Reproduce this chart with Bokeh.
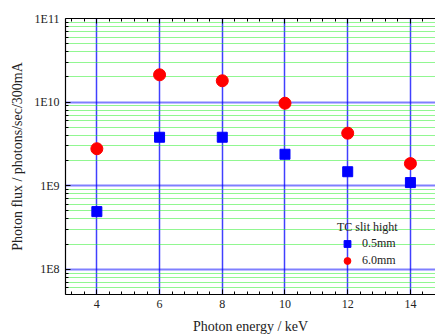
from bokeh.plotting import figure
from bokeh.models import ColumnDataSource, FixedTicker, LinearAxis, CustomJSTickFormatter, Range1d
from bokeh.embed import file_html
from bokeh.resources import INLINE

# Data
energy_kev = [4, 6, 8, 10, 12, 14]
flux_05mm = [4.9e8, 3.8e9, 3.8e9, 2.38e9, 1.47e9, 1.09e9]
flux_60mm = [2.77e9, 2.12e10, 1.8e10, 9.7e9, 4.25e9, 1.84e9]
x_ticks = [4, 6, 8, 10, 12, 14]
y_ticks = [1e8, 1e9, 1e10, 1e11]

FONT = "Liberation Serif"

p = figure(width=435, height=336, y_axis_type="log",
           x_range=Range1d(3, 14.8), y_range=Range1d(5e7, 1e11),
           output_backend="svg", toolbar_location=None,
           min_border_left=65, min_border_right=0, min_border_top=18, min_border_bottom=41)
p.outline_line_color = None
p.background_fill_color = "white"
p.border_fill_color = "white"

x_minor = [round(3.2 + 0.4 * i, 2) for i in range(30) if 3.2 + 0.4 * i <= 15]
y_minor = [m * 10 ** e for e in range(7, 11) for m in range(2, 10)]

xt = FixedTicker(ticks=x_ticks, minor_ticks=x_minor)
yt = FixedTicker(ticks=y_ticks, minor_ticks=y_minor)

p.xaxis.ticker = xt
p.yaxis.ticker = yt
p.yaxis.formatter = CustomJSTickFormatter(code='return "1E" + Math.round(Math.log10(tick));')

for ax in [p.xaxis[0], p.yaxis[0]]:
    ax.major_tick_in = 5
    ax.major_tick_out = 0
    ax.minor_tick_in = 3
    ax.minor_tick_out = 0
    ax.axis_line_color = "black"
    ax.axis_line_width = 1.2
    ax.major_tick_line_color = "black"
    ax.minor_tick_line_color = "black"
    ax.major_label_text_font = FONT
    ax.major_label_text_font_size = "12px"
    ax.major_label_text_color = "#222222"
    ax.axis_label_text_font = FONT
    ax.axis_label_text_font_size = "14px"
    ax.axis_label_text_font_style = "normal"
    ax.axis_label_text_color = "#222222"

p.xaxis.axis_label = "Photon energy / keV"
p.yaxis.axis_label = "Photon flux / photons/sec/300mA"
p.xaxis.major_label_standoff = 5
p.xaxis.axis_label_standoff = 8
p.yaxis.major_label_standoff = 6
p.yaxis.axis_label_standoff = 6

top = LinearAxis(ticker=xt, formatter=CustomJSTickFormatter(code='return "";'),
                 major_tick_in=5, major_tick_out=0, minor_tick_in=3, minor_tick_out=0,
                 axis_line_color="black", axis_line_width=1.2, major_label_standoff=0)
p.add_layout(top, "above")

# grids
p.xgrid.ticker = xt
p.xgrid.grid_line_color = "#0000ff"
p.xgrid.grid_line_alpha = 0.75
p.xgrid.grid_line_width = 1.5
p.ygrid.ticker = yt
p.ygrid.grid_line_color = "#0000ff"
p.ygrid.grid_line_alpha = 0.5
p.ygrid.grid_line_width = 2
p.ygrid.minor_grid_line_color = "#22ee22"
p.ygrid.minor_grid_line_dash = "1 1"
p.ygrid.minor_grid_line_width = 1.2
p.ygrid.minor_grid_line_alpha = 1.0

src = ColumnDataSource(dict(x=energy_kev, a=flux_05mm, b=flux_60mm))
p.scatter("x", "a", source=src, marker="square", size=10, color="#0000ff", legend_label="0.5mm")
p.scatter("x", "b", source=src, marker="circle", size=12, color="#ff0000", legend_label="6.0mm")

lg = p.legend[0]
lg.title = "TC slit hight"
lg.title_text_font = FONT
lg.title_text_font_size = "12px"
lg.title_text_font_style = "normal"
lg.title_text_color = "#222222"
lg.label_text_font = FONT
lg.label_text_font_size = "12px"
lg.label_text_color = "#222222"
lg.background_fill_alpha = 0
lg.border_line_color = None
lg.padding = 0
lg.margin = 0
lg.spacing = 0
lg.label_height = 17
lg.glyph_height = 17
lg.glyph_width = 20
lg.title_standoff = 0
lg.location = (272, 25)

open("out.html", "w").write(file_html(p, INLINE))
